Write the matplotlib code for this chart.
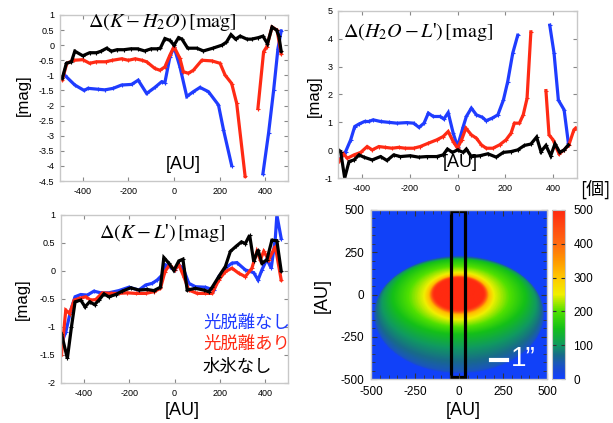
import numpy as np
import matplotlib
matplotlib.use("Agg")
import matplotlib.pyplot as plt
from matplotlib.colors import LinearSegmentedColormap
from matplotlib.patches import Rectangle
from matplotlib.ticker import FuncFormatter, MultipleLocator

plt.rcParams['font.family'] = ['Liberation Sans', 'DejaVu Sans']
plt.rcParams['mathtext.fontset'] = 'stix'
plt.rcParams['axes.unicode_minus'] = False

BLUE = "#1f3cff"
RED = "#ff2a14"
BLACK = "#000000"
nan = np.nan

# ---- panel 1: Delta(K - H2O)
k_h2o_black_x = [-490, -472, -450, -435, -400, -370, -340, -320, -295, -275, -250, -220, -190, -160, -129, -100, -75, -60, -40, -18, 0, 20, 35, 60, 100, 129, 170, 210, 230, 250, 270, 290, 320, 340, 370, 390, 410, 430, 450, 460, 470]
k_h2o_black_y = [-1.1, -0.6, -0.55, -0.2, -0.35, -0.25, -0.25, -0.2, -0.1, -0.2, -0.15, -0.15, -0.12, -0.12, -0.19, -0.12, -0.12, -0.1, 0.22, 0.16, 0.0, 0.25, 0.2, -0.1, -0.1, -0.19, -0.1, 0.0, 0.1, 0.35, 0.2, 0.3, 0.2, 0.2, 0.25, 0.3, 0.05, 0.6, 0.5, 0.3, -0.2]

k_h2o_red_x = [-490, -470, -440, -400, -370, -340, -300, -270, -230, -200, -170, -140, -120, -84, -62, -40, -18, 0, 26, 41, 63, 85, 122, 166, 202, 224, 253, 275, 312, 340, 368, 393, 407, 430, 452, 470]
k_h2o_red_y = [-1.15, -0.6, -0.5, -0.48, -0.6, -0.55, -0.55, -0.5, -0.45, -0.5, -0.45, -0.5, -0.55, -0.77, -0.83, -0.72, -0.33, -0.05, -0.44, -0.88, -0.93, -0.83, -0.5, -0.52, -0.6, -0.99, -1.27, -1.93, -4.35, nan, -2.1, -0.22, -0.05, 0.6, 0.5, -0.28]

k_h2o_blue_x = [-480, -435, -394, -377, -333, -303, -267, -230, -186, -157, -120, -84, -54, -40, -18, 0, 26, 56, 85, 114, 151, 195, 217, 253, 320, 390, 415, 437, 456, 470]
k_h2o_blue_y = [-0.99, -1.32, -1.5, -1.43, -1.46, -1.48, -1.43, -1.32, -1.3, -1.16, -1.6, -1.4, -1.21, -1.24, -0.39, -0.06, -0.72, -1.7, -1.54, -1.4, -1.54, -1.98, -2.8, -3.99, nan, -4.26, -2.9, -1.49, -0.11, 0.47]

# ---- panel 2: Delta(H2O - L')
h2o_l_blue_x = [-491, -468, -447, -430, -412, -389, -371, -353, -322, -288, -253, -212, -184, -161, -140, -122, -101, -73, -57, -39, -18, 0, 24, 37, 58, 79, 104, 120, 145, 169, 192, 210, 231, 252, 320, 386, 404, 422, 446, 464]
h2o_l_blue_y = [-0.32, -0.05, 0.37, 0.85, 0.94, 1.03, 1.03, 1.09, 1.03, 1.0, 0.97, 0.99, 0.97, 0.82, 0.97, 1.33, 1.21, 1.21, 1.12, 1.35, 0.61, 0.13, 0.85, 1.21, 1.51, 1.27, 1.18, 1.06, 1.15, 1.27, 1.8, 2.46, 3.48, 4.13, nan, 4.49, 3.48, 1.8, 1.45, 0.25]

h2o_l_red_x = [-495, -477, -461, -433, -405, -378, -357, -329, -302, -274, -246, -219, -184, -156, -122, -87, -60, -39, -18, 0, 17, 35, 58, 79, 100, 120, 148, 176, 203, 224, 238, 259, 275, 291, 307, 340, 370, 383, 400, 411, 425, 446, 466, 487, 494]
h2o_l_red_y = [-0.4, -0.13, -0.29, -0.17, -0.08, 0.13, 0.01, 0.13, 0.1, 0.07, 0.1, 0.07, 0.07, 0.13, 0.25, 0.37, 0.49, 0.67, 0.31, 0.07, 0.37, 0.79, 0.55, 0.43, 0.19, 0.07, 0.07, 0.19, 0.37, 0.61, 0.97, 0.97, 1.27, 1.86, 4.25, nan, 2.14, 0.55, 0.37, 0.13, -0.13, 0.01, 0.19, 0.73, 0.79]

h2o_l_black_x = [-498, -489, -472, -454, -433, -412, -392, -357, -322, -295, -267, -239, -198, -163, -129, -87, -60, -42, -21, 0, 24, 37, 58, 93, 127, 162, 192, 224, 252, 280, 307, 331, 349, 370, 390, 408, 428, 446, 464]
h2o_l_black_y = [0.01, -0.05, -1.0, -0.41, -0.35, -0.17, -0.25, -0.35, -0.23, -0.37, -0.17, -0.23, -0.2, -0.25, -0.23, -0.23, -0.17, 0.04, -0.08, 0.01, -0.08, 0.04, -0.23, -0.2, -0.13, -0.25, -0.08, -0.05, 0.01, 0.17, 0.22, 0.47, -0.05, 0.17, -0.2, 0.23, -0.08, 0.01, 0.19]

# ---- panel 3: Delta(K - L')
k_l_blue_x = [-498, -479, -457, -438, -413, -384, -355, -325, -289, -245, -201, -157, -127, -98, -76, -54, -40, -22, 0, 19, 38, 63, 92, 136, 173, 195, 224, 253, 275, 312, 349, 368, 385, 407, 426, 444, 451, 470]
k_l_blue_y = [-1.29, -1.09, -0.7, -0.46, -0.42, -0.43, -0.36, -0.39, -0.39, -0.35, -0.29, -0.34, -0.25, -0.22, -0.16, -0.07, 0.11, 0.08, 0.02, 0.11, 0.05, -0.22, -0.28, -0.29, -0.34, -0.1, 0.05, 0.14, 0.15, 0.02, -0.03, -0.16, 0.02, 0.21, 0.05, 0.58, 1.0, 0.58]

k_l_red_x = [-498, -479, -462, -442, -420, -391, -369, -347, -318, -281, -245, -208, -171, -127, -91, -62, -42, -22, 0, 19, 41, 63, 100, 136, 166, 195, 224, 253, 283, 312, 341, 363, 378, 393, 415, 444, 470]
k_l_red_y = [-1.5, -0.7, -0.76, -0.52, -0.49, -0.46, -0.52, -0.51, -0.39, -0.4, -0.4, -0.39, -0.4, -0.4, -0.37, -0.31, -0.01, 0.11, 0.02, 0.11, -0.1, -0.34, -0.4, -0.4, -0.4, -0.16, -0.01, 0.05, -0.04, -0.1, 0.05, 0.35, 0.2, 0.35, 0.2, 0.44, -0.16]

k_l_black_x = [-498, -472, -454, -438, -413, -394, -374, -352, -333, -311, -289, -259, -230, -193, -157, -120, -91, -62, -47, -25, -3, 19, 37, 56, 92, 129, 151, 166, 195, 224, 246, 271, 295, 312, 331, 349, 368, 385, 407, 429, 451, 470]
k_l_black_y = [-1.12, -1.56, -1.0, -0.55, -0.52, -0.64, -0.55, -0.6, -0.52, -0.41, -0.46, -0.42, -0.36, -0.3, -0.34, -0.33, -0.35, -0.29, 0.24, 0.14, 0.01, 0.18, 0.21, -0.34, -0.31, -0.34, -0.37, -0.29, -0.1, 0.08, 0.35, 0.44, 0.52, 0.49, 0.64, 0.17, 0.38, 0.14, 0.2, 0.55, 0.54, 0.0]

legend_labels = ["光脱離なし", "光脱離あり", "水氷なし"]

# ---- panel 4: nested iso-count ellipses
map_levels = [500, 470, 320, 250, 150, 100, 70, 45, 25]
map_semi_x = [140, 150, 170, 200, 380, 440, 470, 480, 485]
map_semi_y = [90, 100, 115, 140, 222, 266, 309, 338, 346]
map_cen_y = [0, 0, -5, -12, -17, -54, -91, -116, -121]
map_background = 5

cmap = LinearSegmentedColormap.from_list("count", [
    (0.0, "#1040ff"), (0.05, "#1848d8"), (0.09, "#1a58b8"), (0.14, "#186a8a"),
    (0.2, "#109a60"), (0.3, "#14c018"), (0.4, "#50e000"), (0.5, "#f0f000"),
    (0.6, "#ffc800"), (0.7, "#ff9800"), (0.8, "#ff6a10"), (0.9, "#ff4a12"),
    (1.0, "#ff2a10")])

fig = plt.figure(figsize=(6.13, 4.23), dpi=100)
W, H = 613.0, 423.0
SERIF = ['Liberation Serif', 'DejaVu Serif']
CJK = ['Noto Sans CJK JP', 'DejaVu Sans']


def add_axes(l, r, t, b):
    return fig.add_axes([l / W, 1 - b / H, (r - l) / W, (b - t) / H])


def style_line_axes(ax, ymin, ymax, ystep):
    ax.set_xlim(-500, 500)
    ax.set_ylim(ymin, ymax)
    ax.set_xticks([-400, -200, 0, 200, 400])
    ax.yaxis.set_major_locator(MultipleLocator(ystep))
    ax.yaxis.set_major_formatter(FuncFormatter(lambda v, p: "%g" % v))
    ax.tick_params(direction='in', length=3, labelsize=6.5, color='#888888',
                   top=True, right=True, pad=4)
    for s in ax.spines.values():
        s.set_color('#c8c8c8')
        s.set_linewidth(1.0)


def draw(ax, x, y, c):
    ax.plot(x, y, color=c, lw=2.3, marker='+', ms=3, mew=0.8, solid_joinstyle='miter')


ax1 = add_axes(60, 288, 15, 181)
draw(ax1, k_h2o_blue_x, k_h2o_blue_y, BLUE)
draw(ax1, k_h2o_red_x, k_h2o_red_y, RED)
draw(ax1, k_h2o_black_x, k_h2o_black_y, BLACK)
style_line_axes(ax1, -4.5, 1, 0.5)
ax1.text(0.45, 0.955, r"$\Delta(K - H_2O)\,[\mathrm{mag}]$", transform=ax1.transAxes,
         ha='center', va='center', fontsize=14.5, family=SERIF)
ax1.text(0.54, 0.1, "[AU]", transform=ax1.transAxes, ha='center', va='center', fontsize=13)

ax2 = add_axes(338, 577, 11, 178)
draw(ax2, h2o_l_blue_x, h2o_l_blue_y, BLUE)
draw(ax2, h2o_l_red_x, h2o_l_red_y, RED)
draw(ax2, h2o_l_black_x, h2o_l_black_y, BLACK)
style_line_axes(ax2, -1, 5, 1)
ax2.text(0.335, 0.874, r"$\Delta(H_2O - L$'$)\,[\mathrm{mag}]$", transform=ax2.transAxes,
         ha='center', va='center', fontsize=14.5, family=SERIF)
ax2.text(0.51, 0.09, "[AU]", transform=ax2.transAxes, ha='center', va='center', fontsize=13)

ax3 = add_axes(61, 288, 215, 383)
draw(ax3, k_l_blue_x, k_l_blue_y, BLUE)
draw(ax3, k_l_red_x, k_l_red_y, RED)
draw(ax3, k_l_black_x, k_l_black_y, BLACK)
style_line_axes(ax3, -2, 1, 0.5)
ax3.text(0.445, 0.893, r"$\Delta(K - L$'$)\,[\mathrm{mag}]$", transform=ax3.transAxes,
         ha='center', va='center', fontsize=14.5, family=SERIF)

for txt, c, yy in zip(legend_labels, [BLUE, RED, BLACK], [323, 344, 367]):
    fig.text(203 / W, 1 - yy / H, txt, color=c, fontsize=12.5, ha='left', va='center',
             family=CJK)

# y labels / x labels in figure pixels
fig.text(23 / W, 1 - 95 / H, "[mag]", rotation=90, ha='center', va='center', fontsize=12)
fig.text(314 / W, 1 - 96 / H, "[mag]", rotation=90, ha='center', va='center', fontsize=12)
fig.text(22 / W, 1 - 299 / H, "[mag]", rotation=90, ha='center', va='center', fontsize=12)
fig.text(182 / W, 1 - 410 / H, "[AU]", ha='center', va='center', fontsize=13)
fig.text(463 / W, 1 - 410 / H, "[AU]", ha='center', va='center', fontsize=13)
fig.text(322 / W, 1 - 295 / H, "[AU]", rotation=90, ha='center', va='center', fontsize=13)
fig.text(595 / W, 1 - 190 / H, "[個]", ha='center', va='center', fontsize=13, family=CJK)

# ---- map
ax4 = add_axes(371, 547, 210, 379)
gx = np.linspace(-500, 500, 251)
gy = np.linspace(-500, 500, 251)
X, Y = np.meshgrid(gx, gy)
idx = np.arange(len(map_levels))
u = np.linspace(0, len(map_levels) - 1, 500)
sx = np.interp(u, idx, map_semi_x)
sy = np.interp(u, idx, map_semi_y)
cy = np.interp(u, idx, map_cen_y)
lv = np.interp(u, idx, map_levels)
inside = (X[None] / sx[:, None, None]) ** 2 + ((Y[None] - cy[:, None, None]) / sy[:, None, None]) ** 2 <= 1
any_in = inside.any(axis=0)
first = inside.argmax(axis=0)
Z = np.where(any_in, lv[first], map_background)

im = ax4.imshow(Z, origin='lower', extent=(-500, 500, -500, 500), cmap=cmap,
                vmin=0, vmax=500, aspect='auto', interpolation='bilinear')
ax4.add_patch(Rectangle((-45, -490), 80, 985, fill=False, lw=2.3, ec='black'))
ax4.plot([180, 272], [-390, -390], color='white', lw=3)
ax4.text(295, -380, "1”", color='white', fontsize=20, ha='left', va='center')
ax4.set_xlim(-500, 500)
ax4.set_ylim(-500, 500)
ax4.set_xticks([-500, -250, 0, 250, 500])
ax4.set_yticks([-500, -250, 0, 250, 500])
ax4.xaxis.set_minor_locator(MultipleLocator(50))
ax4.yaxis.set_minor_locator(MultipleLocator(50))
ax4.tick_params(which='both', direction='in', top=True, right=True, color='#333333',
                labelsize=8.5, pad=5)
ax4.tick_params(which='major', length=4)
ax4.tick_params(which='minor', length=3)
for s in ax4.spines.values():
    s.set_color('#c8c8c8')
    s.set_linewidth(1.0)

cax = add_axes(552, 565, 210, 379)
cb = fig.colorbar(im, cax=cax, ticks=[0, 100, 200, 300, 400, 500])
cb.outline.set_edgecolor('#c8c8c8')
cax.tick_params(direction='in', length=3, left=True, right=True, labelsize=8.5, pad=6,
                color='#333333')

fig.savefig("out.png", dpi=100)
